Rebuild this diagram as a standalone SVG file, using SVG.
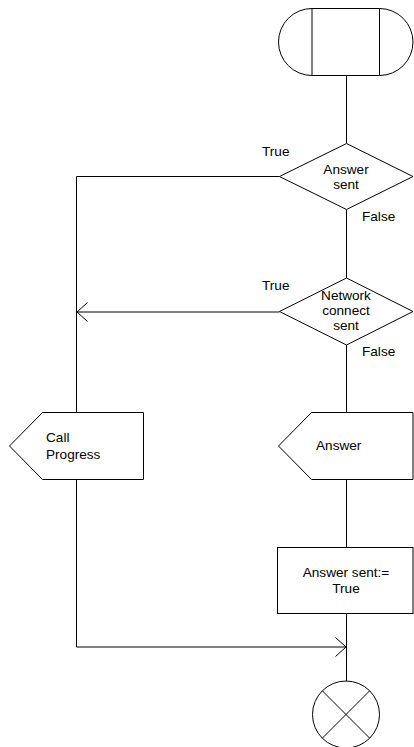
<svg xmlns="http://www.w3.org/2000/svg" width="414" height="747" viewBox="0 0 414 747">
<style>
.s{fill:#fff;stroke:#000;stroke-width:1}
.c{fill:none;stroke:#000;stroke-width:1}
text{font-family:"Liberation Sans",Arial,sans-serif;font-size:13.6px;fill:#000}
.m{text-anchor:middle}
</style>
<defs>
<marker id="arr" markerUnits="userSpaceOnUse" markerWidth="14" markerHeight="22" viewBox="0 0 14 22" refX="12" refY="11" orient="auto">
<path d="M1.5,1.5 L12,11 L1.5,20.5" fill="none" stroke="#000" stroke-width="1"/>
</marker>
</defs>
<rect width="414" height="747" fill="#fff"/>
<g id="connectors">
<path class="c" d="M346.5,75.5 V143"/>
<path class="c" d="M346.5,210 V278"/>
<path class="c" d="M346.5,345 V412.5"/>
<path class="c" d="M346.5,479.5 V547.5"/>
<path class="c" d="M346.5,613.5 V681"/>
<path class="c" d="M279.5,176.5 H76.5 V412.5"/>
<path class="c" d="M279.5,312 H77" marker-end="url(#arr)"/>
<path class="c" d="M76.5,479.5 V647 H346" marker-end="url(#arr)"/>
</g>
<g id="start">
<path class="s" d="M312,8.5 H379.5 A33.5,33.5 0 0 1 379.5,75.5 H312 A33.5,33.5 0 0 1 312,8.5 Z"/>
<path class="c" d="M312,8.5 V75.5 M379.5,8.5 V75.5"/>
</g>
<g id="decision1">
<polygon class="s" points="346.5,143.5 413,176.5 346.5,209.5 279.5,176.5"/>
<text class="m" x="346" y="174">Answer</text>
<text class="m" x="346" y="189">sent</text>
</g>
<text x="262" y="156">True</text>
<text x="362" y="221">False</text>
<g id="decision2">
<polygon class="s" points="346.5,278 413,311.5 346.5,345 279.5,311.5"/>
<text class="m" x="346" y="300">Network</text>
<text class="m" x="346" y="315">connect</text>
<text class="m" x="346" y="330">sent</text>
</g>
<text x="262" y="290">True</text>
<text x="362" y="356">False</text>
<g id="callProgress">
<polygon class="s" points="42.5,412.5 143.5,412.5 143.5,479.5 42.5,479.5 9.5,446"/>
<text x="46" y="442">Call</text>
<text x="46" y="459">Progress</text>
</g>
<g id="answer">
<polygon class="s" points="311.5,412.5 413,412.5 413,479.5 311.5,479.5 278.5,446"/>
<text x="316" y="450">Answer</text>
</g>
<g id="task">
<rect class="s" x="277.5" y="547.5" width="135.5" height="66"/>
<text class="m" x="346" y="577">Answer sent:=</text>
<text class="m" x="346" y="593">True</text>
</g>
<g id="stop">
<circle class="s" cx="346" cy="714.5" r="33.5"/>
<path class="c" d="M322.3,690.8 L369.7,738.2 M369.7,690.8 L322.3,738.2"/>
</g>
</svg>
